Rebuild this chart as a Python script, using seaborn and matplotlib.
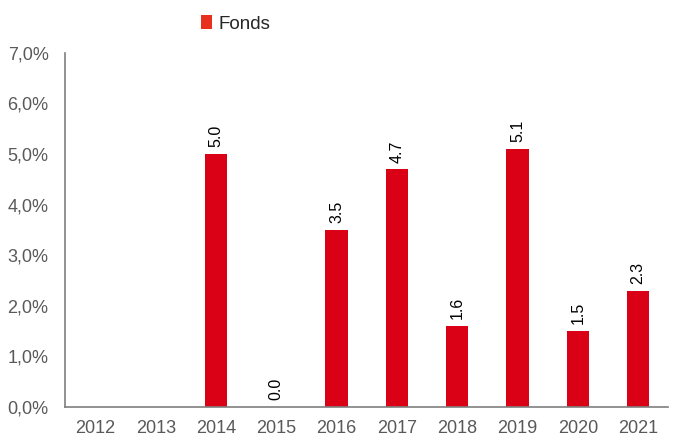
import numpy as np
import pandas as pd
import matplotlib
matplotlib.use("Agg")
import matplotlib.pyplot as plt
from matplotlib.patches import Patch
import seaborn as sns

# Chart data (annual performance, %)
years = ["2012", "2013", "2014", "2015", "2016", "2017", "2018", "2019", "2020", "2021"]
fonds = [np.nan, np.nan, 5.0, 0.0, 3.5, 4.7, 1.6, 5.1, 1.5, 2.3]
y_ticks = [0, 1, 2, 3, 4, 5, 6, 7]

BAR_RED = "#DA0015"
GREY = "#595959"

sns.set_style("white")
plt.rcParams["font.family"] = ["Liberation Sans", "DejaVu Sans"]

df = pd.DataFrame({"year": years, "value": fonds})

fig = plt.figure(figsize=(6.73, 4.37), dpi=100)
ax = fig.add_axes([0.097, 0.069, 0.896, 0.81])

sns.barplot(data=df, x="year", y="value", color=BAR_RED, width=0.37,
            saturation=1, linewidth=0, ax=ax)

# value labels above each bar, rotated
for i, v in enumerate(fonds):
    if np.isnan(v):
        continue
    ax.text(i, v + 0.13, f"{v:.1f}", rotation=90, ha="center", va="bottom",
            fontsize=11.5, color="black")

ax.set_ylim(0, 7)
ax.set_yticks(y_ticks)
ax.set_yticklabels([f"{t:.1f}%".replace(".", ",") for t in y_ticks])
ax.set_xlabel("")
ax.set_ylabel("")
ax.tick_params(axis="both", length=0, labelsize=13, colors=GREY)
ax.tick_params(axis="x", pad=9.5)
ax.tick_params(axis="y", pad=12)

sns.despine(ax=ax, top=True, right=True)
for side in ["left", "bottom"]:
    ax.spines[side].set_color("#7F7F7F")
    ax.spines[side].set_linewidth(1.2)

handle = Patch(facecolor="#E8301E", edgecolor="none")
fig.legend([handle], ["Fonds"], loc="center", bbox_to_anchor=(0.35, 0.945),
           frameon=False, fontsize=13.5, handlelength=0.6, handleheight=0.7,
           handletextpad=0.3)

fig.savefig("out.png", dpi=100)
